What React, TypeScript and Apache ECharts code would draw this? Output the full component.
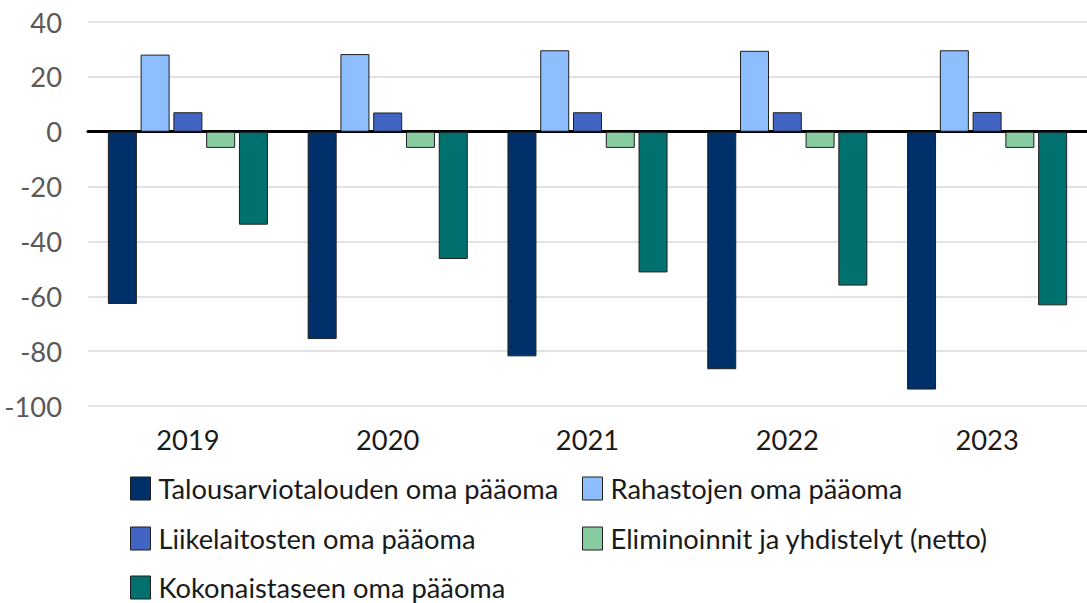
import React, { useEffect, useRef } from "react";
import * as echarts from "echarts";

const years = ["2019", "2020", "2021", "2022", "2023"];
const seriesNames = [
  "Talousarviotalouden oma pääoma",
  "Rahastojen oma pääoma",
  "Liikelaitosten oma pääoma",
  "Eliminoinnit ja yhdistelyt (netto)",
  "Kokonaistaseen oma pääoma",
];
const talous = [-62.8, -75.6, -81.9, -86.6, -94.0];
const rahastot = [28.1, 28.3, 29.7, 29.5, 29.7];
const liike = [7.1, 7.0, 7.1, 7.1, 7.2];
const elim = [-5.9, -5.9, -5.9, -5.9, -5.9];
const kokonais = [-33.9, -46.4, -51.3, -56.1, -63.3];
const colors = ["#003069", "#8FBEFF", "#4264C2", "#86CCA0", "#00716F"];

const FONT = "Lato";
const FS = 27.3;

export default function App() {
  const ref = useRef<HTMLDivElement>(null);
  useEffect(() => {
    const chart = echarts.init(ref.current!, null, { renderer: "svg" });
    const values = [talous, rahastot, liike, elim, kokonais];
    const legendPos = [
      { left: 130, top: 475 },
      { left: 582, top: 475 },
      { left: 130, top: 525 },
      { left: 582, top: 525 },
      { left: 130, top: 574 },
    ];
    chart.setOption({
      animation: false,
      backgroundColor: "#ffffff",
      textStyle: { fontFamily: FONT },
      grid: { left: 88, width: 1012, top: 22, bottom: 197, containLabel: false },
      legend: seriesNames.map((n, i) => ({
        data: [{ name: n, icon: "rect" }],
        left: legendPos[i].left,
        top: legendPos[i].top,
        orient: "horizontal",
        itemWidth: 20,
        itemHeight: 23,
        itemGap: 0,
        padding: 0,
        selectedMode: false,
        itemStyle: { borderColor: "#1f1f1f", borderWidth: 1 },
        textStyle: { fontSize: FS, color: "#1a1a1a", fontFamily: FONT, padding: [0, 0, 0, 3] },
      })),
      xAxis: {
        type: "category",
        data: years,
        axisLine: { onZero: true, lineStyle: { color: "#000", width: 3 } },
        axisTick: { show: false },
        axisLabel: {
          fontSize: FS,
          color: "#1a1a1a",
          fontFamily: FONT,
          margin: 20,
        },
        position: "bottom",
      },
      yAxis: {
        type: "value",
        min: -100,
        max: 40,
        interval: 20,
        axisLine: { show: false },
        axisTick: { show: false },
        splitLine: { lineStyle: { color: "#d9d9d9", width: 1.5 } },
        axisLabel: { fontSize: FS, color: "#595959", fontFamily: FONT, margin: 26 },
      },
      series: seriesNames.map((n, i) => ({
        name: n,
        type: "bar",
        data: values[i],
        barWidth: 29,
        barGap: "13%",
        itemStyle: { color: colors[i], borderColor: "#1f1f1f", borderWidth: 1 },
      })),
    });
    return () => chart.dispose();
  }, []);
  return (
    <div style={{ position: "fixed", left: 0, top: 0, width: 1087, height: 603 }}>
      <div ref={ref} style={{ width: 1087, height: 603 }} />
    </div>
  );
}
